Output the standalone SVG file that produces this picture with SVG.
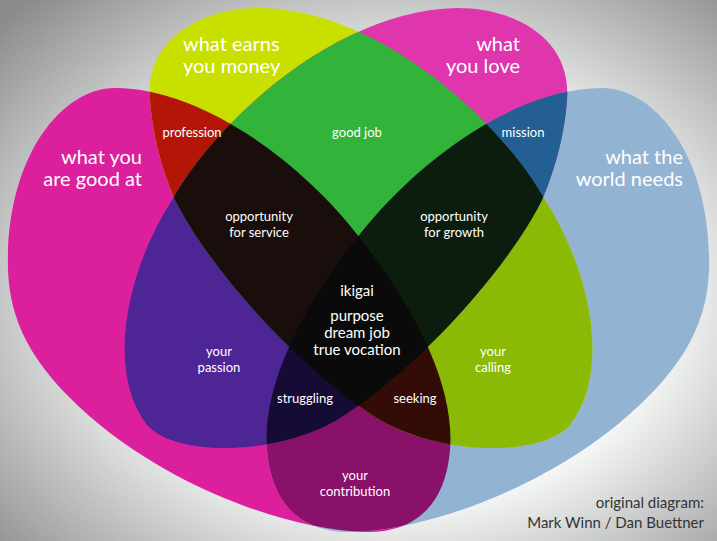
<svg xmlns="http://www.w3.org/2000/svg" xmlns:xlink="http://www.w3.org/1999/xlink" width="717" height="541" viewBox="0 0 717 541">
<defs>
<radialGradient id="bg" cx="55%" cy="55%" r="75%"><stop offset="0.5" stop-color="#f8fafa"/><stop offset="1" stop-color="#8a8c8c"/></radialGradient>
<path id="eA" d="M 8,270 C 5,160 60,88 115,88 C 200,88 300,160 360,238 C 420,315 455,390 450,450 C 445,510 410,533 365,532 C 290,530 180,490 100,425 C 40,375 10,330 8,270 Z"/>
<path id="eD" d="M 8,270 C 5,160 60,88 115,88 C 200,88 300,160 360,238 C 420,315 455,390 450,450 C 445,510 410,533 365,532 C 290,530 180,490 100,425 C 40,375 10,330 8,270 Z" transform="matrix(-1 0 0 1 717 0)"/>
<path id="eB" d="M 150,100 C 145,40 200,8 260,8 C 380,10 500,120 545,200 C 590,270 612,370 570,425 C 540,458 440,455 380,420 C 300,370 210,270 175,200 C 160,165 152,130 150,100 Z"/>
<path id="eC" d="M 150,100 C 145,40 200,8 260,8 C 380,10 500,120 545,200 C 590,270 612,370 570,425 C 540,458 440,455 380,420 C 300,370 210,270 175,200 C 160,165 152,130 150,100 Z" transform="matrix(-1 0 0 1 717 0)"/>
<clipPath id="cA"><use xlink:href="#eA"/></clipPath>
<clipPath id="cB"><use xlink:href="#eB"/></clipPath>
<clipPath id="cC"><use xlink:href="#eC"/></clipPath>
<clipPath id="cD"><use xlink:href="#eD"/></clipPath>
</defs>
<style>
text{font-family:"Lato","Open Sans",sans-serif;fill:#fff}
.big{font-size:20px}
.sm{font-size:13px;text-anchor:middle}
.mid{font-size:15px;text-anchor:middle}
</style>
<rect width="717" height="541" fill="url(#bg)"/>
<g id="sets">
<use xlink:href="#eA" fill="#dc1f9c"/>
<use xlink:href="#eD" fill="#93b3d2"/>
<use xlink:href="#eB" fill="#c8df00"/>
<use xlink:href="#eC" fill="#df36ad"/>
<g clip-path="url(#cA)"><use xlink:href="#eB" fill="#b31606"/><use xlink:href="#eC" fill="#4e2594"/><use xlink:href="#eD" fill="#8a1169"/></g>
<g clip-path="url(#cB)"><use xlink:href="#eC" fill="#32b43a"/><use xlink:href="#eD" fill="#8aba06"/></g>
<g clip-path="url(#cC)"><use xlink:href="#eD" fill="#235f93"/></g>
<g clip-path="url(#cA)"><g clip-path="url(#cB)"><use xlink:href="#eC" fill="#1a0e0c"/><use xlink:href="#eD" fill="#330c08"/></g><g clip-path="url(#cC)"><use xlink:href="#eD" fill="#150b34"/></g></g>
<g clip-path="url(#cB)"><g clip-path="url(#cC)"><use xlink:href="#eD" fill="#0c1d0e"/></g></g>
<g clip-path="url(#cA)"><g clip-path="url(#cB)"><g clip-path="url(#cC)"><use xlink:href="#eD" fill="#0a0a0a"/></g></g></g>
</g>
<g id="labels">
<text class="big" x="183" y="51">what earns</text>
<text class="big" x="183" y="73">you money</text>
<text class="big" x="520" y="51" text-anchor="end">what</text>
<text class="big" x="520" y="73" text-anchor="end">you love</text>
<text class="big" x="142" y="164" text-anchor="end">what you</text>
<text class="big" x="142" y="186" text-anchor="end">are good at</text>
<text class="big" x="683" y="164" text-anchor="end">what the</text>
<text class="big" x="683" y="186" text-anchor="end">world needs</text>
<text class="sm" x="192" y="137">profession</text>
<text class="sm" x="357" y="137">good job</text>
<text class="sm" x="523" y="137">mission</text>
<text class="sm" x="259" y="221">opportunity</text>
<text class="sm" x="259" y="237">for service</text>
<text class="sm" x="454" y="221">opportunity</text>
<text class="sm" x="454" y="237">for growth</text>
<text class="mid" x="357" y="296">ikigai</text>
<text class="mid" x="357" y="321">purpose</text>
<text class="mid" x="357" y="338">dream job</text>
<text class="mid" x="357" y="355">true vocation</text>
<text class="sm" x="219" y="356">your</text>
<text class="sm" x="219" y="372">passion</text>
<text class="sm" x="493" y="356">your</text>
<text class="sm" x="493" y="372">calling</text>
<text class="sm" x="305" y="403">struggling</text>
<text class="sm" x="415" y="403">seeking</text>
<text class="sm" x="355" y="480">your</text>
<text class="sm" x="355" y="496">contribution</text>
<text x="704" y="508" text-anchor="end" style="fill:#333;font-size:15px">original diagram:</text>
<text x="704" y="528" text-anchor="end" style="fill:#333;font-size:15px">Mark Winn / Dan Buettner</text>
</g>
</svg>
